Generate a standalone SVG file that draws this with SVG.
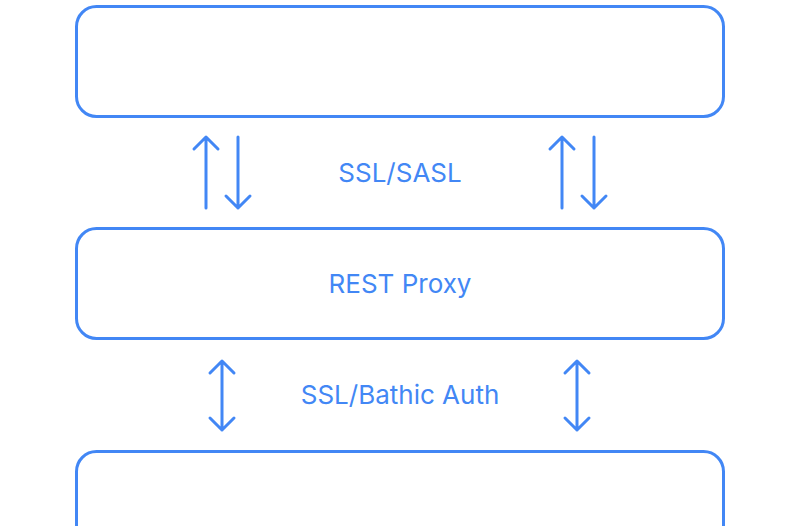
<svg xmlns="http://www.w3.org/2000/svg" width="800" height="526" viewBox="0 0 800 526">
<style>
.box{fill:#fff;stroke:#4287f5;stroke-width:3}
.ln{fill:none;stroke:#4287f5;stroke-width:3;stroke-linecap:round;stroke-linejoin:round}
.t{font-family:Inter,"Liberation Sans",sans-serif;font-size:26px;fill:#4287f5;text-anchor:middle}
</style>
<rect width="800" height="526" fill="#fff"/>
<g id="top"><rect class="box" x="76.5" y="6.5" width="647" height="110" rx="20"/></g>
<g id="proxy"><rect class="box" x="76.5" y="228.5" width="647" height="110" rx="20"/><text class="t" x="400" y="293">REST Proxy</text></g>
<g id="bottom"><rect class="box" x="76.5" y="451.5" width="647" height="110" rx="20"/></g>
<g id="connectors">
<path class="ln" d="M206 208V137M194 149L206 137L218 149"/>
<path class="ln" d="M238 137V208M226 196L238 208L250 196"/>
<path class="ln" d="M562 208V137M550 149L562 137L574 149"/>
<path class="ln" d="M594 137V208M582 196L594 208L606 196"/>
<path class="ln" d="M222 361V430M210 373L222 361L234 373M210 418L222 430L234 418"/>
<path class="ln" d="M577 361V430M565 373L577 361L589 373M565 418L577 430L589 418"/>
<text class="t" x="400" y="182">SSL/SASL</text>
<text class="t" x="400" y="404">SSL/Bathic Auth</text>
</g>
</svg>
